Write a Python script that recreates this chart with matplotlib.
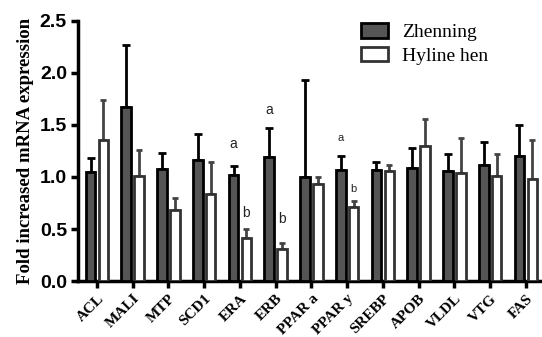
import matplotlib
matplotlib.use("Agg")
import matplotlib.pyplot as plt
import numpy as np

categories = ["ACL", "MALI", "MTP", "SCD1", "ERA", "ERB", "PPAR a", "PPAR y",
              "SREBP", "APOB", "VLDL", "VTG", "FAS"]
zhenning = [1.05, 1.67, 1.08, 1.16, 1.02, 1.19, 1.00, 1.07, 1.07, 1.09, 1.06, 1.12, 1.20]
zhenning_err = [0.13, 0.60, 0.15, 0.25, 0.09, 0.28, 0.93, 0.13, 0.07, 0.19, 0.16, 0.22, 0.30]
hyline = [1.36, 1.01, 0.68, 0.84, 0.41, 0.31, 0.93, 0.71, 1.06, 1.30, 1.04, 1.01, 0.98]
hyline_err = [0.38, 0.25, 0.12, 0.30, 0.09, 0.06, 0.07, 0.06, 0.06, 0.26, 0.33, 0.21, 0.38]
sig_labels = [("a", 4, "Z", 10), ("b", 4, "H", 10), ("a", 5, "Z", 10), ("b", 5, "H", 10),
              ("a", 7, "Z", 8), ("b", 7, "H", 8)]
sig_y = [1.32, 0.65, 1.64, 0.60, 1.375, 0.88]

fig = plt.figure(figsize=(5.42, 3.37), dpi=100)
ax = fig.add_axes([0.144, 0.166, 0.852, 0.772])

x = np.arange(len(categories))
w = 0.27
off = 0.18
ax.bar(x - off, zhenning, w, color="#555555", edgecolor="black", linewidth=2,
       label="Zhenning", zorder=3)
ax.bar(x + off, hyline, w, color="white", edgecolor="#333333", linewidth=2,
       label="Hyline hen", zorder=3)
ax.errorbar(x - off, zhenning, yerr=[np.zeros(len(x)), zhenning_err], fmt="none",
            ecolor="black", elinewidth=2, capsize=3, capthick=2, zorder=2)
ax.errorbar(x + off, hyline, yerr=[np.zeros(len(x)), hyline_err], fmt="none",
            ecolor="#444444", elinewidth=2, capsize=2, capthick=2, zorder=2)

for (txt, i, grp, fs), yv in zip(sig_labels, sig_y):
    xp = i - off if grp == "Z" else i + off
    ax.text(xp, yv, txt, ha="center", va="center", fontsize=fs,
            family="Liberation Sans", color="#222222")

ax.set_ylim(0, 2.5)
ax.set_xlim(-0.53, 12.39)
ax.set_yticks([0.0, 0.5, 1.0, 1.5, 2.0, 2.5])
ax.set_yticklabels(["0.0", "0.5", "1.0", "1.5", "2.0", "2.5"],
                   fontsize=14, fontweight="bold", family="Liberation Sans")
ax.set_xticks(x)
ax.set_xticklabels(categories, rotation=45, ha="right", rotation_mode="anchor",
                   fontsize=11, fontweight="bold", family="Liberation Serif")
ax.tick_params(axis="both", direction="out", length=5, width=2.5, pad=3)
for s in ["top", "right"]:
    ax.spines[s].set_visible(False)
for s in ["left", "bottom"]:
    ax.spines[s].set_linewidth(2.5)

ax.set_ylabel("Fold increased mRNA expression", fontsize=13.5, fontweight="bold",
              family="Liberation Serif", labelpad=4)

leg = ax.legend(loc="upper left", bbox_to_anchor=(0.612, 0.99), frameon=False,
                prop={"family": "Liberation Serif", "size": 14},
                handlelength=1.4, handleheight=0.75, handletextpad=0.75,
                labelspacing=0.3, borderpad=0, borderaxespad=0)

fig.savefig("out.png", dpi=100)
